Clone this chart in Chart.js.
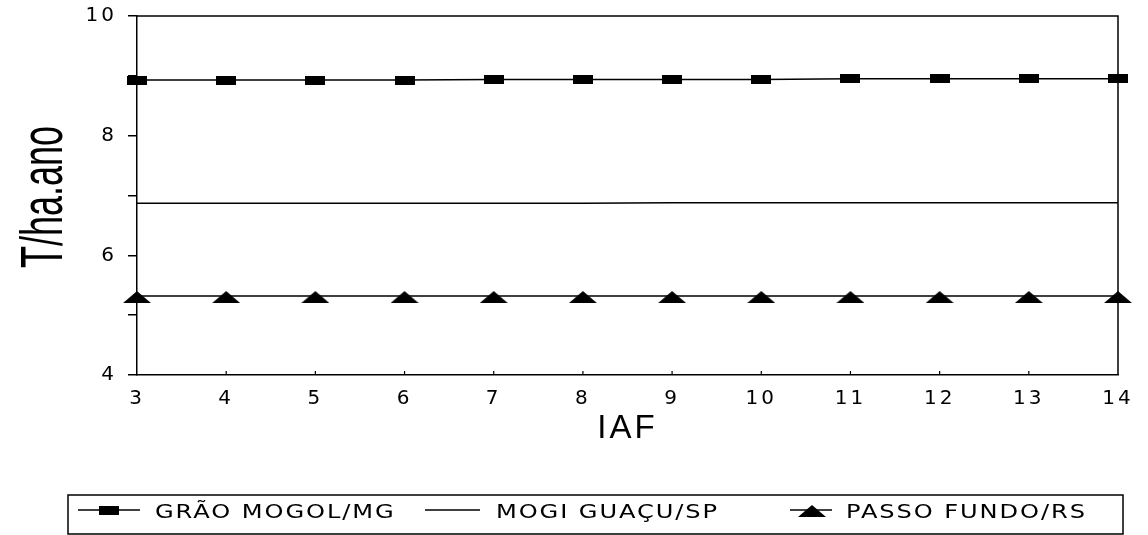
<!DOCTYPE html>
<html>
<head>
<meta charset="utf-8">
<script src="https://cdn.jsdelivr.net/npm/chart.js"></script>
<style>
html,body{margin:0;padding:0;background:#fff;}
#wrap{width:1148px;height:535px;position:relative;}
canvas{display:block;}
</style>
</head>
<body>
<div id="wrap"><canvas id="c" width="1148" height="535"></canvas></div>
<script>
// ---- data ----
const categories = [3, 4, 5, 6, 7, 8, 9, 10, 11, 12, 13, 14];
const graoMogol  = [8.93, 8.93, 8.93, 8.93, 8.94, 8.94, 8.94, 8.94, 8.95, 8.95, 8.95, 8.95];
const mogiGuacu  = [6.87, 6.87, 6.87, 6.87, 6.87, 6.87, 6.88, 6.88, 6.88, 6.88, 6.88, 6.88];
const passoFundo = [5.32, 5.32, 5.32, 5.32, 5.32, 5.32, 5.32, 5.32, 5.32, 5.32, 5.32, 5.32];
const seriesNames = ['GRÃO MOGOL/MG', 'MOGI GUAÇU/SP', 'PASSO FUNDO/RS'];
const yTickLabels = [4, 6, 8, 10];
const xTitle = 'IAF';
const yTitle = 'T/ha.ano';

// ---- marker shapes ----
function rectMarker() {
  const c = document.createElement('canvas');
  c.width = 20; c.height = 9;
  const g = c.getContext('2d');
  g.fillStyle = '#000';
  g.fillRect(0, 0, 20, 9);
  return c;
}
function triMarker() {
  const c = document.createElement('canvas');
  c.width = 28; c.height = 14;
  const g = c.getContext('2d');
  g.fillStyle = '#000';
  g.beginPath();
  g.moveTo(14, 2); g.lineTo(28, 14); g.lineTo(0, 14); g.closePath();
  g.fill();
  return c;
}
const markers = [rectMarker(), null, triMarker()];

// ---- plugins ----
const frame = {
  id: 'frame',
  beforeDraw(chart) { chart.ctx.letterSpacing = '3px'; },
  beforeDatasetsDraw(chart) {
    const {ctx, chartArea: a} = chart;
    ctx.save();
    ctx.strokeStyle = '#000';
    ctx.lineWidth = 1.5;
    ctx.beginPath();
    ctx.moveTo(a.left, a.top); ctx.lineTo(a.right, a.top); ctx.lineTo(a.right, a.bottom);
    ctx.stroke();
    // inward x ticks
    const xs = chart.scales.x;
    ctx.lineWidth = 1.2;
    ctx.beginPath();
    xs.ticks.forEach((t, i) => {
      if (i === 0 || i === xs.ticks.length - 1) return;
      const px = xs.getPixelForTick(i);
      ctx.moveTo(px, a.bottom); ctx.lineTo(px, a.bottom - 4);
    });
    ctx.stroke();
    ctx.restore();
  },
  afterDraw(chart) {
    const ctx = chart.ctx;
    // y title (tall, condensed)
    ctx.save();
    ctx.letterSpacing = '0px';
    ctx.fillStyle = '#000';
    ctx.translate(62, 197);
    ctx.rotate(-Math.PI / 2);
    ctx.scale(0.6, 1);
    ctx.font = '60px "Liberation Sans", Arial, sans-serif';
    ctx.textAlign = 'center';
    ctx.textBaseline = 'alphabetic';
    ctx.fillText(yTitle, 0, 0);
    ctx.restore();

    // legend box
    ctx.save();
    ctx.strokeStyle = '#000';
    ctx.lineWidth = 1.5;
    ctx.strokeRect(68, 495, 1123 - 68, 39);
    const lay = [
      {l0: 78, l1: 140, m: 109, t: 155},
      {l0: 425, l1: 480, m: 452, t: 496},
      {l0: 790, l1: 832, m: 812, t: 846}
    ];
    const ly = 510;
    chart.data.datasets.forEach((ds, i) => {
      const p = lay[i];
      ctx.lineWidth = 1.5;
      ctx.beginPath();
      ctx.moveTo(p.l0, ly); ctx.lineTo(p.l1, ly);
      ctx.stroke();
      const mk = markers[i];
      if (mk) ctx.drawImage(mk, p.m - mk.width / 2, ly - mk.height / 2);
      ctx.save();
      ctx.translate(p.t, 513);
      ctx.scale(1.27, 1);
      ctx.letterSpacing = '1.5px';
      ctx.font = '19px "DejaVu Sans", sans-serif';
      ctx.fillStyle = '#000';
      ctx.textAlign = 'left';
      ctx.textBaseline = 'middle';
      ctx.fillText(ds.label, 0, 0);
      ctx.restore();
    });
    ctx.restore();
  }
};

const seriesData = [graoMogol, mogiGuacu, passoFundo];
const datasets = seriesData.map((d, i) => ({
  label: seriesNames[i],
  data: d,
  borderColor: '#000',
  backgroundColor: '#000',
  borderWidth: 1.5,
  pointStyle: markers[i] || 'circle',
  pointRadius: markers[i] ? 6 : 0,
  pointHoverRadius: markers[i] ? 6 : 0,
  tension: 0,
  fill: false,
  clip: false
}));

new Chart(document.getElementById('c'), {
  type: 'line',
  data: { labels: categories.map(String), datasets },
  options: {
    responsive: false,
    animation: false,
    events: [],
    layout: { padding: { top: 16, right: 30, bottom: 86, left: 0 } },
    plugins: { legend: { display: false }, tooltip: { enabled: false } },
    scales: {
      x: {
        type: 'category',
        offset: false,
        grid: { display: true, drawOnChartArea: false, drawTicks: false },
        border: { display: true, color: '#000', width: 1.5 },
        ticks: {
          color: '#000',
          padding: 12,
          maxRotation: 0,
          autoSkip: false,
          font: { family: '"DejaVu Sans", sans-serif', size: 20, lineHeight: 1.2 }
        },
        title: {
          display: true,
          text: xTitle,
          color: '#000',
          padding: { top: 0, bottom: 0 },
          font: { family: '"Liberation Sans", Arial, sans-serif', size: 33, lineHeight: 1.2 }
        },
        afterFit(scale) { scale.height = 74; scale.paddingLeft = 0; scale.paddingRight = 0; }
      },
      y: {
        min: 4,
        max: 10,
        grid: { display: true, drawOnChartArea: false, drawTicks: true, tickLength: 9, color: '#000', lineWidth: 1.5 },
        border: { display: true, color: '#000', width: 1.5 },
        ticks: {
          stepSize: 1,
          color: '#000',
          padding: 11,
          font: { family: '"DejaVu Sans", sans-serif', size: 20, lineHeight: 1.2 },
          callback: (v) => yTickLabels.includes(v) ? String(v) : ''
        },
        afterFit(scale) { scale.width = 137; scale.paddingTop = 0; scale.paddingBottom = 0; }
      }
    }
  },
  plugins: [frame]
});
</script>
</body>
</html>
